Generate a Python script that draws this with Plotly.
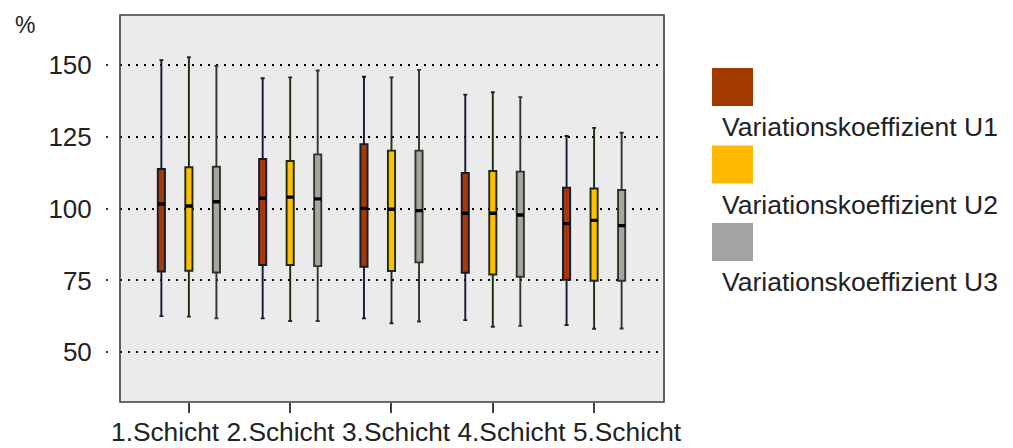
import plotly.graph_objects as go

categories = ["1.Schicht", "2.Schicht", "3.Schicht", "4.Schicht", "5.Schicht"]
series_names = ["Variationskoeffizient U1", "Variationskoeffizient U2", "Variationskoeffizient U3"]

# box statistics per series (one value per Schicht)
u1_upper = [151.7, 145.4, 145.9, 139.7, 125.3]
u1_q3 = [113.8, 117.3, 122.4, 112.4, 107.3]
u1_median = [101.6, 103.6, 100.1, 98.4, 94.8]
u1_q1 = [78.1, 80.4, 79.8, 77.7, 75.2]
u1_lower = [62.6, 61.8, 61.8, 61.2, 59.5]

u2_upper = [152.7, 145.7, 145.7, 140.5, 128.1]
u2_q3 = [114.4, 116.6, 120.2, 113.1, 107.0]
u2_median = [100.9, 104.0, 99.8, 98.4, 95.9]
u2_q1 = [78.4, 80.4, 78.3, 77.1, 74.9]
u2_lower = [62.4, 60.9, 60.1, 58.9, 58.2]

u3_upper = [149.7, 148.1, 148.3, 138.8, 126.4]
u3_q3 = [114.6, 118.9, 120.2, 112.9, 106.5]
u3_median = [102.4, 103.4, 99.3, 97.8, 94.1]
u3_q1 = [77.8, 80.0, 81.3, 76.3, 74.9]
u3_lower = [61.8, 60.9, 60.7, 59.2, 58.3]

y_ticks = [50, 75, 100, 125, 150]
y_unit = "%"

fill_colors = ["#a53a08", "#ffbf00", "#a6a6a0"]
edge_colors = ["#141a30", "#1a2e14", "#33332a"]
legend_colors = ["#a33a00", "#ffb900", "#a3a3a3"]

stats = [
    (u1_lower, u1_q1, u1_median, u1_q3, u1_upper),
    (u2_lower, u2_q1, u2_median, u2_q3, u2_upper),
    (u3_lower, u3_q1, u3_median, u3_q3, u3_upper),
]

FONT = "Liberation Sans, Arial, sans-serif"
W, H = 1013, 448
ML, MR, MT, MB = 100, 349, 15, 46
PW = W - ML - MR
PH = H - MT - MB

def px_x(px):
    return (px - ML) / PW

def px_y(py):
    return (H - MB - py) / PH

fig = go.Figure()
for i, (lo, q1, med, q3, up) in enumerate(stats):
    fig.add_trace(go.Box(
        x=categories, lowerfence=lo, q1=q1, median=med, q3=q3, upperfence=up,
        name=series_names[i], offsetgroup=str(i), fillcolor=fill_colors[i],
        line=dict(color=edge_colors[i], width=1.9), whiskerwidth=0.55,
        boxpoints=False, showlegend=False, hoverinfo="skip",
    ))
    # thick black median line
    fig.add_trace(go.Box(
        x=categories, lowerfence=med, q1=med, median=med, q3=med, upperfence=med,
        name=series_names[i] + " Median", offsetgroup=str(i),
        fillcolor="rgba(0,0,0,0)", line=dict(color="#000000", width=3.4),
        whiskerwidth=0, boxpoints=False, showlegend=False, hoverinfo="skip",
    ))

fig.update_layout(
    width=W, height=H,
    margin=dict(l=ML, r=MR, t=MT, b=MB),
    paper_bgcolor="white", plot_bgcolor="#ebebeb",
    boxmode="group", boxgap=0.185, boxgroupgap=0.74,
    font=dict(family=FONT, color="#222222", size=26),
    showlegend=False,
)
fig.update_xaxes(
    domain=[px_x(120), 1], type="category",
    range=[-0.68, 4.69],
    showticklabels=False, ticks="outside", ticklen=10, tickwidth=2, tickcolor="#404040",
    showgrid=False, zeroline=False, showline=False,
)
fig.update_yaxes(
    anchor="free", position=px_x(108),
    range=[32.7, 167.4], tickvals=y_ticks,
    ticks="outside", ticklen=2, tickwidth=2, tickcolor="#333333",
    ticklabelstandoff=9,
    tickfont=dict(size=26, color="#222222", family=FONT),
    showgrid=True, gridcolor="#000000", gridwidth=2, griddash="2px,6px",
    zeroline=False, showline=False,
)
# plot frame
fig.add_shape(type="rect", xref="x domain", yref="y domain", x0=0, x1=1, y0=0, y1=1,
              line=dict(color="#3c3c3c", width=1.6), fillcolor="rgba(0,0,0,0)", layer="above")

# y unit label
fig.add_annotation(text=y_unit, xref="paper", yref="paper", x=px_x(13), y=px_y(25),
                   xanchor="left", yanchor="middle", showarrow=False,
                   font=dict(size=23, family=FONT, color="#222222"))

# category labels written as one line under the axis
fig.add_annotation(text=" ".join(categories), xref="paper", yref="paper",
                   x=px_x(110), y=px_y(416), xanchor="left", yanchor="top",
                   borderpad=0, showarrow=False,
                   font=dict(size=26.3, family=FONT, color="#222222"))

# custom legend: colour square above each label
sq_top, step = 68, 77.5
for i, name in enumerate(series_names):
    top = sq_top + i * step
    fig.add_shape(type="rect", xref="paper", yref="paper",
                  x0=px_x(712), x1=px_x(753), y0=px_y(top + 38), y1=px_y(top),
                  line=dict(width=0), fillcolor=legend_colors[i])
    fig.add_annotation(text=name, xref="paper", yref="paper",
                       x=px_x(720), y=px_y(top + 59), xanchor="left", yanchor="middle",
                       showarrow=False, font=dict(size=26.5, family=FONT, color="#222222"))

fig.write_html("out.html", config={"displayModeBar": False},
               post_script="document.body.style.margin='0';document.body.style.overflow='hidden';")
